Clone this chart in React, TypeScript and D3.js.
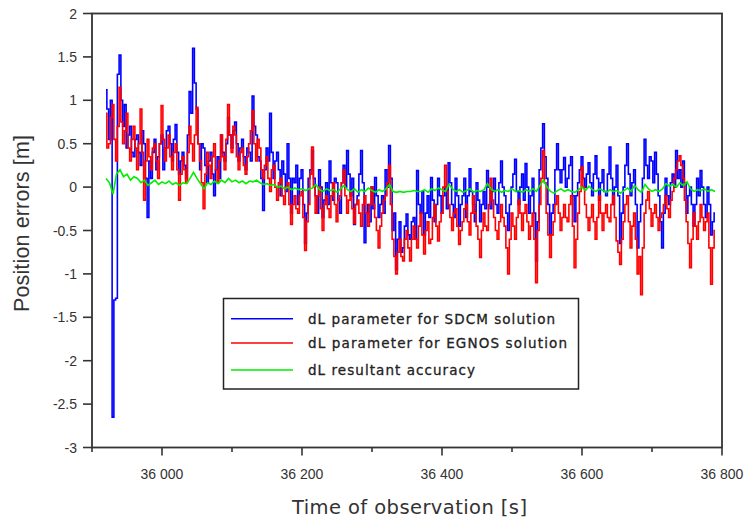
import React from "react";
import * as d3 from "d3";

const T0 = 35920;
const STEP = 2.5;
const GREEN_STEP = 5;

const sdcm = [
  1.12, 0.9, 0.55, 1.0, -2.65, -1.3, -1.28, 1.3, 1.52, 1.0,
  0.7, 0.95, 0.45, 0.6, 0.7, 0.4, 0.35, 0.55, 0.6, 0.4,
  0.25, 0.65, 0.5, 0.1, -0.35, 0.3, 0.1, 0.4, 0.55, 0.2,
  0.35, 0.5, 0.6, 0.2, 0.45, 0.65, 0.7, 0.5, 0.3, 0.55,
  0.72, 0.4, 0.15, 0.3, 0.4, 0.25, 0.1, 0.6, 1.1, 0.85,
  1.6, 1.2, 0.9, 0.5, 0.2, 0.5, 0.45, 0.25, 0.05, 0.3,
  0.4, 0.15, -0.1, 0.2, 0.35, 0.1, 0.6, 0.4, 0.3, 0.5,
  0.8, 0.6, 0.45, 0.65, 0.75, 0.5, 0.3, 0.45, 0.55, 0.35,
  0.2, 0.45, 0.4, 0.3, 1.05, 0.7, 0.6, 0.35, 0.3, 0.1,
  -0.27, 0.2, 0.45, 0.3, 0.85, 0.4, 0.1, 0.3, 0.4, 0.2,
  -0.1, 0.3, 0.15, -0.05, 0.5, 0.1, -0.3, 0.1, 0.05, 0.25,
  -0.2, 0.1, 0.2, -0.2, -0.65, -0.3, 0.1, 0.2, 0.42, 0.1,
  -0.1, -0.3, 0.2, 0.0, -0.35, -0.15, 0.05, -0.2, 0.3, 0.05,
  -0.15, 0.1, 0.05, -0.15, -0.3, 0.05, 0.25, 0.0, 0.42, 0.15,
  -0.1, 0.1, -0.43, -0.2, -0.1, 0.15, 0.42, 0.05, -0.64, -0.3,
  -0.2, -0.4, 0.0, -0.25, 0.11, -0.1, -0.35, -0.2, -0.1, -0.3,
  0.2, 0.0, 0.48, 0.1, -0.5, -0.3, -0.95, -0.6, -0.4, -0.75,
  -0.7, -0.45, -0.31, -0.55, -0.6, -0.4, -0.35, -0.6, 0.19, -0.2,
  -0.3, -0.05, -0.55, -0.3, -0.1, -0.35, 0.11, -0.15, -0.4, -0.2,
  0.1, -0.1, -0.3, -0.1, 0.0, -0.25, 0.28, 0.05, -0.2, -0.35,
  0.1, -0.1, -0.45, -0.2, -0.1, 0.1, -0.35, -0.1, 0.21, -0.05,
  -0.2, -0.4, 0.05, -0.15, -0.4, -0.2, -0.05, -0.25, 0.19, 0.0,
  -0.25, -0.05, 0.1, -0.2, -0.3, 0.05, 0.3, 0.0, -0.1, -0.3,
  -0.5, -0.2, 0.0, 0.15, 0.32, -0.05, -0.2, 0.0, 0.15, -0.15,
  0.27, 0.0, -0.3, -0.1, 0.1, -0.3, -0.85, -0.4, 0.2, 0.45,
  0.73, 0.35, 0.1, -0.2, -0.55, -0.3, -0.2, 0.2, 0.5, 0.2,
  0.05, 0.2, 0.34, 0.0, 0.1, 0.25, 0.35, -0.1, -0.4, -0.1,
  0.05, 0.2, 0.35, 0.1, 0.0, 0.15, 0.28, 0.05, -0.1, 0.15,
  0.36, 0.1, -0.15, 0.05, 0.2, -0.05, -0.1, 0.15, 0.46, 0.1,
  -0.2, 0.0, 0.25, -0.1, -0.65, -0.3, 0.0, 0.25, 0.5, 0.15,
  -0.1, 0.05, 0.2, -0.2, -0.7, -0.4, -0.2, 0.1, 0.55, 0.25,
  0.1, 0.35, 0.3, 0.05, 0.4, 0.15, -0.1, -0.4, -0.7, -0.3,
  0.1, -0.1, -0.2, 0.05, 0.15, 0.0, 0.42, 0.1, 0.2, 0.0,
  0.3, 0.05, -0.3, -0.1, 0.0, -0.2, -0.45, -0.2, 0.1, -0.1,
  0.19, 0.0, -0.2, -0.35, 0.0, -0.2, -0.55, -0.4, -0.3,
];

const egnos = [
  0.85, 0.45, 0.5, 0.8, 0.95, 0.55, 0.3, 0.7, 1.15, 0.75,
  0.5, 0.65, 0.85, 0.45, 0.3, 0.55, 0.7, 0.45, 0.2, 0.5,
  0.9, 0.4, -0.15, 0.3, 0.55, 0.35, 0.2, 0.45, 0.5, 0.3,
  0.1, 0.5, 0.94, 0.55, 0.3, 0.45, 0.6, 0.35, 0.2, 0.4,
  0.5, 0.2, -0.15, 0.15, 0.35, 0.2, 0.05, 0.4, 0.7, 0.5,
  0.3, 0.6, 0.92, 0.5, 0.3, 0.05, -0.25, 0.15, 0.4, 0.25,
  0.1, 0.35, 0.5, 0.2, 0.05, 0.3, 0.6, 0.35, 0.2, 0.55,
  0.95, 0.6, 0.4, 0.7, 0.6, 0.35, 0.2, 0.4, 0.45, 0.25,
  0.15, 0.35, 0.5, 0.65, 0.88, 0.5, 0.3, 0.55, 0.45, 0.2,
  0.1, 0.25, 0.35, 0.1, -0.05, 0.2, 0.25, 0.0, -0.15, 0.05,
  0.1, -0.1, -0.2, 0.0, 0.05, -0.2, -0.43, -0.2, -0.1, -0.25,
  -0.3, -0.1, -0.05, -0.35, -0.73, -0.4, -0.2, 0.15, 0.46, 0.0,
  -0.3, -0.1, 0.0, -0.25, -0.5, -0.2, -0.1, -0.25, -0.35, -0.1,
  0.05, -0.2, -0.4, -0.15, -0.1, 0.05, 0.2, -0.1, -0.3, -0.15,
  -0.05, -0.25, -0.42, -0.2, -0.15, -0.3, -0.45, -0.2, -0.1, -0.3,
  -0.45, -0.2, 0.0, -0.2, -0.35, -0.5, -0.7, -0.45, -0.3, -0.15,
  -0.1, 0.05, 0.25, -0.2, -0.6, -0.8, -1.0, -0.75, -0.6, -0.8,
  -0.85, -0.6, -0.5, -0.7, -0.85, -0.6, -0.45, -0.6, -0.7, -0.45,
  -0.3, -0.55, -0.77, -0.5, -0.4, -0.65, -0.6, -0.35, -0.2, -0.45,
  -0.62, -0.4, -0.3, 0.0, 0.25, -0.05, -0.2, -0.35, -0.5, -0.3,
  -0.25, -0.45, -0.66, -0.5, -0.4, -0.25, -0.2, -0.4, -0.55, -0.3,
  -0.1, -0.3, -0.45, -0.6, -0.81, -0.5, -0.3, -0.45, -0.5, -0.2,
  0.1, -0.15, -0.35, -0.5, -0.6, -0.4, -0.2, -0.35, -0.45, -0.7,
  -1.0, -0.6, -0.3, -0.45, -0.6, -0.35, -0.15, -0.3, -0.5, -0.3,
  -0.2, -0.4, -0.6, -0.45, -0.3, -0.6, -1.1, -0.5, -0.2, 0.1,
  0.42, 0.05, -0.3, -0.55, -0.81, -0.55, -0.4, -0.2, -0.1, -0.3,
  -0.5, -0.35, -0.2, -0.35, -0.4, -0.2, -0.1, -0.45, -0.93, -0.6,
  -0.3, -0.05, 0.23, 0.0, -0.2, -0.35, -0.5, -0.35, -0.2, -0.4,
  -0.6, -0.35, -0.1, -0.3, -0.5, -0.3, -0.2, -0.35, -0.4, -0.2,
  -0.1, -0.35, -0.62, -0.75, -0.89, -0.6, -0.4, -0.2, -0.1, -0.4,
  -0.7, -0.45, -0.3, -0.6, -1.0, -0.8, -1.24, -0.7, -0.3, -0.15,
  -0.05, -0.25, -0.45, -0.3, -0.2, -0.35, -0.5, -0.35, -0.3, -0.2,
  -0.1, -0.25, -0.35, -0.15, -0.05, 0.1, 0.2, 0.3, 0.36, 0.25,
  0.1, -0.15, -0.4, -0.65, -0.93, -0.6, -0.3, -0.45, -0.6, -0.4,
  -0.2, -0.35, -0.5, -0.4, -0.3, -0.7, -1.12, -0.7, -0.5,
];

const resultant = [
  0.1, 0.05, -0.08, 0.15, 0.2, 0.12, 0.15, 0.08, 0.12, 0.1,
  0.05, 0.08, 0.02, 0.05, 0.08, 0.03, 0.06, 0.04, 0.07, 0.03,
  0.05, 0.02, 0.05, 0.04, 0.1, 0.17, 0.1, 0.04, -0.02, 0.05,
  0.03, 0.07, 0.04, 0.08, 0.05, 0.1, 0.06, 0.08, 0.05, 0.07,
  0.04, 0.07, 0.06, 0.08, 0.05, 0.03, 0.04, 0.02, 0.03, 0.0,
  0.01, -0.02, 0.0, -0.03, -0.01, -0.03, -0.02, -0.04, -0.02, -0.01,
  0.03, -0.03, -0.05, -0.02, -0.04, -0.03, -0.06, -0.02, 0.02, -0.03,
  -0.05, -0.02, -0.06, -0.03, -0.05, -0.01, -0.04, -0.06, -0.03, -0.05,
  -0.02, 0.03, -0.05, -0.06, -0.05, -0.06, -0.05, -0.05, -0.04, -0.05,
  -0.05, -0.03, -0.06, -0.02, -0.04, -0.01, -0.03, -0.05, 0.03, -0.02,
  -0.05, -0.03, -0.06, -0.04, -0.02, -0.06, -0.04, -0.05, -0.03, 0.04,
  -0.02, -0.05, -0.03, -0.06, -0.04, -0.05, -0.02, -0.05, -0.04, -0.06,
  -0.03, -0.05, -0.02, -0.05, 0.02, 0.08, 0.0, -0.05, -0.07, -0.04,
  -0.02, -0.05, -0.03, -0.05, -0.06, -0.03, 0.0, -0.04, 0.01, -0.03,
  -0.05, -0.02, -0.04, -0.06, -0.03, -0.05, -0.04, -0.07, -0.04, -0.01,
  -0.05, 0.02, -0.03, -0.06, 0.03, -0.02, -0.05, -0.03, -0.05, -0.02,
  0.04, 0.01, 0.03, 0.0, 0.05, 0.02, 0.06, -0.02, -0.05, -0.03,
  -0.04, -0.02, -0.05, -0.03, -0.05,
];

const yTicks = [-3, -2.5, -2, -1.5, -1, -0.5, 0, 0.5, 1, 1.5, 2];
const yTickLabels = ["-3", "-2.5", "-2", "-1.5", "-1", "-0.5", "0", "0.5", "1", "1.5", "2"];
const xMajorTicks = [36000, 36200, 36400, 36600, 36800];
const xMajorLabels = ["36 000", "36 200", "36 400", "36 600", "36 800"];
const xMinorTicks = [35900, 36100, 36300, 36500, 36700];

const seriesNames = [
  "dL parameter for SDCM solution",
  "dL parameter for EGNOS solution",
  "dL resultant accuracy",
];
const seriesColors = ["#0000ff", "#ff0000", "#00ee00"];
const legendTextWidths = [247, 259, 167];

const W = 749;
const H = 525;
const L = 92;
const R = 722;
const TOP = 13.5;
const BOT = 447.5;

export default function App() {
  const x = d3.scaleLinear().domain([35900, 36800]).range([L, R]);
  const y = d3.scaleLinear().domain([-3, 2]).range([BOT, TOP]);
  const stepLine = d3
    .line<number>()
    .x((_, i) => x(T0 + i * STEP))
    .y((v) => y(v))
    .curve(d3.curveStep);
  const greenLine = d3
    .line<number>()
    .x((_, i) => x(T0 + i * GREEN_STEP))
    .y((v) => y(v))
    .curve(d3.curveLinear);

  const axisColor = "#333";
  const font = "'Liberation Sans', Arial, sans-serif";

  return (
    <svg
      width={W}
      height={H}
      style={{ position: "absolute", left: 0, top: 0, background: "#fff" }}
    >
      <rect x={0} y={0} width={W} height={H} fill="#fff" />
      <path d={stepLine(sdcm) || ""} fill="none" stroke={seriesColors[0]} strokeWidth={1.6} />
      <path d={stepLine(egnos) || ""} fill="none" stroke={seriesColors[1]} strokeWidth={1.6} />
      <path d={greenLine(resultant) || ""} fill="none" stroke={seriesColors[2]} strokeWidth={1.6} />
      {/* frame */}
      <rect
        x={L}
        y={TOP}
        width={R - L}
        height={BOT - TOP}
        fill="none"
        stroke={axisColor}
        strokeWidth={1.8}
      />
      {/* y ticks */}
      {yTicks.map((t, i) => (
        <g key={"y" + i}>
          <line x1={L - 9} x2={L} y1={y(t)} y2={y(t)} stroke={axisColor} strokeWidth={1.6} />
          <text
            x={L - 15}
            y={y(t)}
            textAnchor="end"
            dominantBaseline="central"
            fontFamily={font}
            fontSize={14}
            fill="#333"
          >
            {yTickLabels[i]}
          </text>
        </g>
      ))}
      {/* x ticks */}
      {xMajorTicks.map((t, i) => (
        <g key={"xm" + i}>
          <line x1={x(t)} x2={x(t)} y1={BOT} y2={BOT + 8} stroke={axisColor} strokeWidth={1.6} />
          <text
            x={x(t)}
            y={474}
            textAnchor="middle"
            dominantBaseline="central"
            fontFamily={font}
            fontSize={14}
            fill="#333"
          >
            {xMajorLabels[i]}
          </text>
        </g>
      ))}
      {xMinorTicks.map((t, i) => (
        <line
          key={"xn" + i}
          x1={x(t)}
          x2={x(t)}
          y1={BOT}
          y2={BOT + 4.5}
          stroke={axisColor}
          strokeWidth={1.6}
        />
      ))}
      {/* axis titles */}
      <text
        x={409.5}
        y={507.5}
        textAnchor="middle"
        dominantBaseline="central"
        fontFamily="'DejaVu Sans', Verdana, sans-serif"
        fontSize={19.5}
        textLength={235}
        lengthAdjust="spacing"
        fill="#333"
      >
        Time of observation [s]
      </text>
      <text
        transform={`translate(22,223.5) rotate(-90)`}
        textAnchor="middle"
        dominantBaseline="central"
        fontFamily={font}
        fontSize={21.5}
        textLength={177}
        lengthAdjust="spacing"
        fill="#333"
      >
        Position errors [m]
      </text>
      {/* legend */}
      <rect x={223.5} y={298.5} width={355} height={90.5} fill="#fff" stroke="#222" strokeWidth={1.5} />
      {seriesNames.map((n, i) => {
        const ly = [318.7, 343, 370][i];
        return (
          <g key={"lg" + i}>
            <line x1={231} x2={293} y1={ly} y2={ly} stroke={seriesColors[i]} strokeWidth={1.6} />
            <text
              x={308}
              y={ly}
              dominantBaseline="central"
              fontFamily="'DejaVu Sans', Verdana, sans-serif"
              fontSize={13.5}
              textLength={legendTextWidths[i]}
              lengthAdjust="spacing"
              fill="#222"
              stroke="#222"
              strokeWidth={0.3}
            >
              {n}
            </text>
          </g>
        );
      })}
    </svg>
  );
}
